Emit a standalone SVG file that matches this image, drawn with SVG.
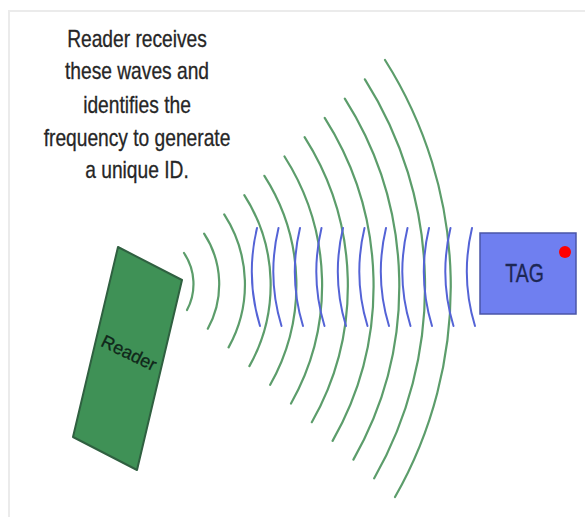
<svg xmlns="http://www.w3.org/2000/svg" width="585" height="517" viewBox="0 0 585 517">
  <style>
    .frame { stroke: #ebebeb; stroke-width: 2; fill: none; }
    .g { fill: none; stroke: #5c9d6b; stroke-width: 2.2; stroke-linecap: round; }
    .b { fill: none; stroke: #5463d6; stroke-width: 2; stroke-linecap: round; }
    .cap { font-family: "Liberation Sans", Arial, sans-serif; font-size: 24px; fill: #262626; stroke: #262626; stroke-width: 0.3; text-anchor: middle; }
  </style>
  <rect width="585" height="517" fill="#ffffff"/>
  <path class="frame" d="M9,517 V11 H585"/>

  <g id="caption" transform="translate(137,0) scale(0.8,1)">
    <text class="cap" x="0" y="47">Reader receives</text>
    <text class="cap" x="0" y="79">these waves and</text>
    <text class="cap" x="0" y="113">identifies the</text>
    <text class="cap" x="0" y="146">frequency to generate</text>
    <text class="cap" x="0" y="178">a unique ID.</text>
  </g>

  <g id="waves">
    <g id="reader-waves">
      <path class="g" d="M184,253 A55.4,55.4 0 0 1 187,310"/>
      <path class="g" d="M204.1,233.7 A92.2,92.2 0 0 1 207.8,328.7"/>
      <path class="g" d="M224.2,214.4 A129,129 0 0 1 228.6,347.4"/>
      <path class="g" d="M244.3,195.1 A166,166 0 0 1 249.4,366.1"/>
      <path class="g" d="M264.4,175.8 A202.8,202.8 0 0 1 270.2,384.8"/>
      <path class="g" d="M284.5,156.5 A239.7,239.7 0 0 1 291,403.5"/>
      <path class="g" d="M304.6,137.2 A276.5,276.5 0 0 1 311.8,422.2"/>
      <path class="g" d="M324.7,117.9 A313.4,313.4 0 0 1 332.6,440.9"/>
      <path class="g" d="M344.8,98.6 A350.3,350.3 0 0 1 353.4,459.6"/>
      <path class="g" d="M364.9,79.3 A387.1,387.1 0 0 1 374.2,478.3"/>
      <path class="g" d="M385,60 A424,424 0 0 1 395,497"/>
    </g>
    <g id="tag-waves">
      <path class="b" d="M257,228 A188,188 0 0 0 260,326"/>
      <path class="b" d="M278.5,228 A188,188 0 0 0 281.5,326"/>
      <path class="b" d="M300,228 A188,188 0 0 0 303,326"/>
      <path class="b" d="M321.5,228 A188,188 0 0 0 324.5,326"/>
      <path class="b" d="M343,228 A188,188 0 0 0 346,326"/>
      <path class="b" d="M364.5,228 A188,188 0 0 0 367.5,326"/>
      <path class="b" d="M386,228 A188,188 0 0 0 389,326"/>
      <path class="b" d="M407.5,228 A188,188 0 0 0 410.5,326"/>
      <path class="b" d="M429,228 A188,188 0 0 0 432,326"/>
      <path class="b" d="M450.5,228 A188,188 0 0 0 453.5,326"/>
      <path class="b" d="M472,228 A188,188 0 0 0 475,326"/>
    </g>
  </g>

  <g id="reader">
    <polygon points="118,247 182,280 137,470 73,437" fill="#3f9156" stroke="#2f6040" stroke-width="2" stroke-linejoin="round"/>
    <text transform="translate(129,353) rotate(26)" x="0" y="6" font-family="'Liberation Sans', Arial, sans-serif" font-size="18" fill="#10271a" stroke="#10271a" stroke-width="0.3" text-anchor="middle">Reader</text>
  </g>

  <g id="tag">
    <rect x="480" y="233" width="96" height="81" fill="#6f7ff0" stroke="#4a55a8" stroke-width="1.5"/>
    <circle cx="565" cy="252" r="6" fill="#ff0000"/>
    <text transform="translate(524.5,282) scale(0.78,1)" x="0" y="0" font-family="'Liberation Sans', Arial, sans-serif" font-size="25" fill="#1d2755" stroke="#1d2755" stroke-width="0.3" text-anchor="middle">TAG</text>
  </g>
</svg>
